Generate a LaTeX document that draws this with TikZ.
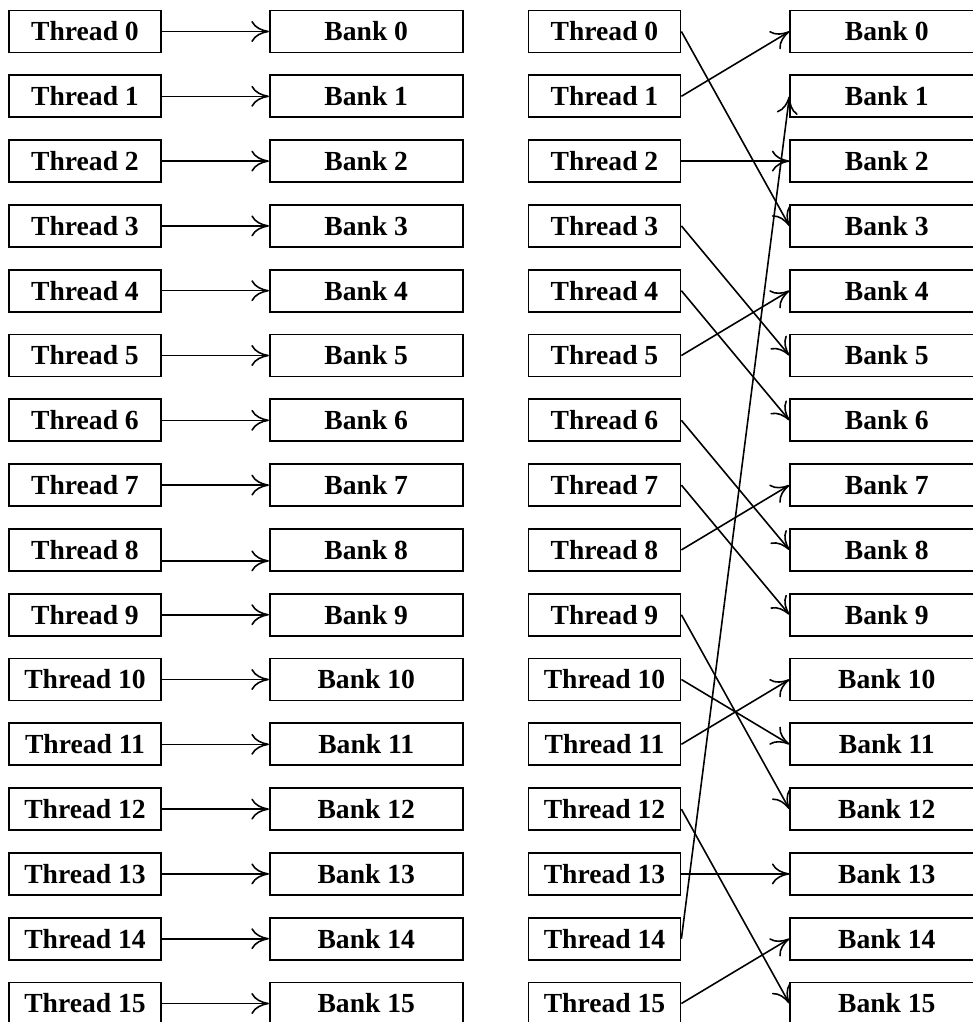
\documentclass[tikz,border=0pt]{standalone}
\usepackage{fontspec}
\setmainfont{Liberation Serif}
\usepackage{tikz}
\usetikzlibrary{arrows.meta}
\usetikzlibrary{positioning}
\tikzset{thread/.style={draw, line width=1pt, minimum width=3.04cm, minimum height=0.84cm,
                        inner sep=0pt, font=\fontsize{15.7}{18}\selectfont\bfseries}}
\tikzset{bank/.style={thread, minimum width=3.86cm}}
\tikzset{low/.style={yshift=-0.22cm}}

\begin{document}
\begin{tikzpicture}[->,>={To[length=10pt,width=12pt]},line width=0.9pt]
   \clip (0,0) rectangle (19.46,-20.44);

   % threads and banks, two columns
   \foreach \i in {0,...,15}{
      \node[thread] (LT\i) at (1.7,{-0.63-1.296*\i}) {Thread \i};
      \node[bank]   (LB\i) [right=2.14cm of LT\i] {Bank \i};
      \node[thread] (RT\i) [right=1.28cm of LB\i]  {Thread \i};
      \node[bank]   (RB\i) [right=2.16cm of RT\i] {Bank \i};
   }

   % left: one thread per bank
   \foreach \i in {0,...,7,9,10,...,15}{
      \path (LT\i.east) edge (LB\i.west);
   }
   \path ([low]LT8.east) edge ([low]LB8.west);

   % right: permuted access
   \foreach \t/\b in {0/3,1/0,2/2,3/5,4/6,5/4,6/8,7/9,
                      8/7,9/12,10/11,11/10,12/15,13/13,14/1,15/14}{
      \path (RT\t.east) edge (RB\b.west);
   }
\end{tikzpicture}
\end{document}
